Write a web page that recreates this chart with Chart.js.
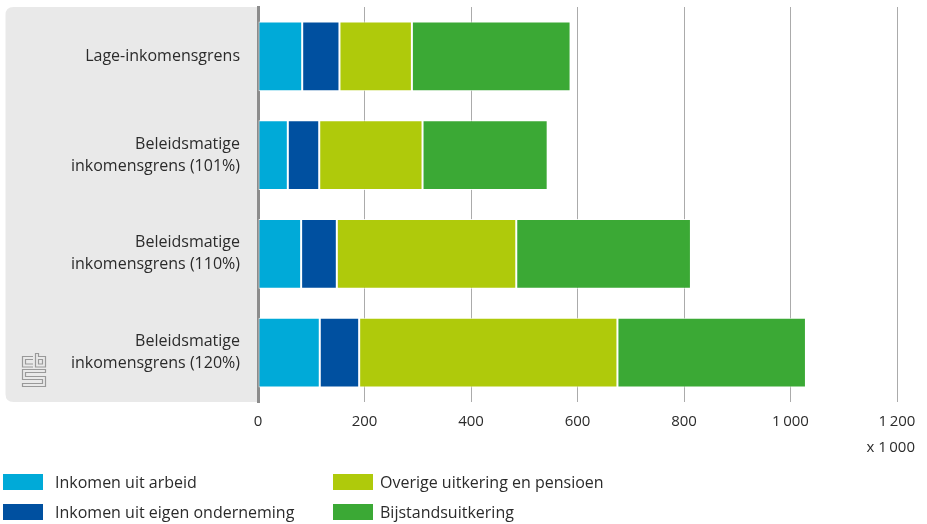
<!DOCTYPE html>
<html><head><meta charset="utf-8">
<script src="https://cdn.jsdelivr.net/npm/chart.js@4.4.1/dist/chart.umd.min.js"></script>
<style>html,body{margin:0;padding:0;background:#fff;overflow:hidden}#wrap{width:927px;height:524px;position:relative}</style>
</head><body><div id="wrap"><canvas id="c" width="927" height="524"></canvas></div>
<script>
const categories = [
  ['Lage-inkomensgrens'],
  ['Beleidsmatige', 'inkomensgrens (101%)'],
  ['Beleidsmatige', 'inkomensgrens (110%)'],
  ['Beleidsmatige', 'inkomensgrens (120%)']
];
const seriesNames = ['Inkomen uit arbeid', 'Inkomen uit eigen onderneming', 'Overige uitkering en pensioen', 'Bijstandsuitkering'];
const inkomenArbeid = [83, 56, 81, 116];
const inkomenOnderneming = [70, 59, 67, 74];
const overigeUitkering = [136, 194, 337, 485];
const bijstandsuitkering = [298, 235, 328, 354];
const xTickValues = [0, 200, 400, 600, 800, 1000, 1200];
const xTickLabels = ['0', '200', '400', '600', '800', '1\u2009000', '1\u2009200'];
const unitLabel = 'x 1\u2009000';
const seriesColors = ['#00aad8', '#0050a0', '#afca0b', '#3ba935'];

const FONT = '"Open Sans", "Noto Sans", sans-serif';
const TEXT = '#2b2b2b';

const panelPlugin = {
  id: 'panel',
  beforeDraw(chart) {
    const ctx = chart.ctx, a = chart.chartArea;
    const x0 = 5.5, y0 = a.top, x1 = a.left, y1 = a.bottom, r = 8;
    ctx.save();
    ctx.fillStyle = '#e9e9e9';
    ctx.beginPath();
    ctx.moveTo(x1, y0);
    ctx.lineTo(x0 + r, y0);
    ctx.quadraticCurveTo(x0, y0, x0, y0 + r);
    ctx.lineTo(x0, y1 - r);
    ctx.quadraticCurveTo(x0, y1, x0 + r, y1);
    ctx.lineTo(x1, y1);
    ctx.closePath();
    ctx.fill();
    // cbs logo (approximation)
    ctx.strokeStyle = '#999999';
    ctx.lineWidth = 1.2;
    ctx.beginPath();
    // c
    ctx.moveTo(33, 356.5); ctx.lineTo(22.5, 356.5); ctx.lineTo(22.5, 367); ctx.lineTo(33, 367);
    ctx.moveTo(33, 359.5); ctx.lineTo(25.5, 359.5); ctx.lineTo(25.5, 364); ctx.lineTo(33, 364);
    // b
    ctx.moveTo(35.5, 353.5); ctx.lineTo(35.5, 367); ctx.lineTo(45.5, 367); ctx.lineTo(45.5, 356.5); ctx.lineTo(38.5, 356.5); ctx.lineTo(38.5, 353.5); ctx.closePath();
    ctx.rect(38.5, 359.5, 4, 4.5);
    // s
    ctx.moveTo(45.5, 369.5); ctx.lineTo(22.5, 369.5); ctx.lineTo(22.5, 379.5); ctx.lineTo(42.5, 379.5); ctx.lineTo(42.5, 383.5);
    ctx.lineTo(22.5, 383.5); ctx.lineTo(22.5, 386.5); ctx.lineTo(45.5, 386.5); ctx.lineTo(45.5, 376.5); ctx.lineTo(25.5, 376.5);
    ctx.lineTo(25.5, 372.5); ctx.lineTo(45.5, 372.5); ctx.closePath();
    ctx.stroke();
    ctx.restore();
  },
  afterDraw(chart) {
    const ctx = chart.ctx;
    ctx.save();
    ctx.fillStyle = TEXT;
    ctx.font = '15px ' + FONT;
    ctx.textAlign = 'right';
    ctx.textBaseline = 'middle';
    ctx.fillText(unitLabel, 915, 448);
    // legend, two columns
    const cols = [3, 333], rows = [482, 512], textOff = [52, 47];
    ctx.font = '16px ' + FONT;
    ctx.textAlign = 'left';
    chart.data.datasets.forEach((ds, i) => {
      const c = Math.floor(i / 2), r = i % 2;
      ctx.fillStyle = ds.backgroundColor;
      ctx.fillRect(cols[c], rows[r] - 8, 40, 16);
      ctx.fillStyle = TEXT;
      ctx.fillText(ds.label, cols[c] + textOff[c], rows[r] + 1);
    });
    ctx.restore();
  }
};

const seriesData = [inkomenArbeid, inkomenOnderneming, overigeUitkering, bijstandsuitkering];

new Chart(document.getElementById('c'), {
  type: 'bar',
  data: {
    labels: categories,
    datasets: seriesNames.map((n, i) => ({
      label: n,
      data: seriesData[i],
      backgroundColor: seriesColors[i],
      borderColor: 'rgba(255,255,255,0.85)',
      borderWidth: 1,
      borderSkipped: false,
      categoryPercentage: 1,
      barPercentage: 0.705
    }))
  },
  options: {
    indexAxis: 'y',
    responsive: false,
    animation: false,
    devicePixelRatio: 1,
    layout: { padding: { left: 0, right: 30, top: 7, bottom: 0 } },
    plugins: { legend: { display: false }, tooltip: { enabled: false } },
    scales: {
      x: {
        stacked: true,
        min: 0, max: 1200,
        afterBuildTicks(s) { s.ticks = xTickValues.map(v => ({ value: v })); },
        ticks: {
          callback: (v) => xTickLabels[xTickValues.indexOf(v)],
          font: { family: FONT, size: 15 },
          color: TEXT,
          padding: 11,
          maxRotation: 0
        },
        grid: { color: '#ababab', lineWidth: 1, drawTicks: false },
        border: { display: false },
        afterFit(s) { s.height = 122; s.paddingLeft = 0; }
      },
      y: {
        stacked: true,
        ticks: {
          font: { family: FONT, size: 16, lineHeight: 1.375 },
          color: TEXT,
          padding: 18
        },
        grid: { display: false, drawTicks: false },
        border: { display: true, color: '#8c8c8c', width: 3 },
        afterFit(s) { s.width = 258; s.paddingTop = 0; s.paddingBottom = 0; }
      }
    }
  },
  plugins: [panelPlugin]
});
</script>
</body></html>
